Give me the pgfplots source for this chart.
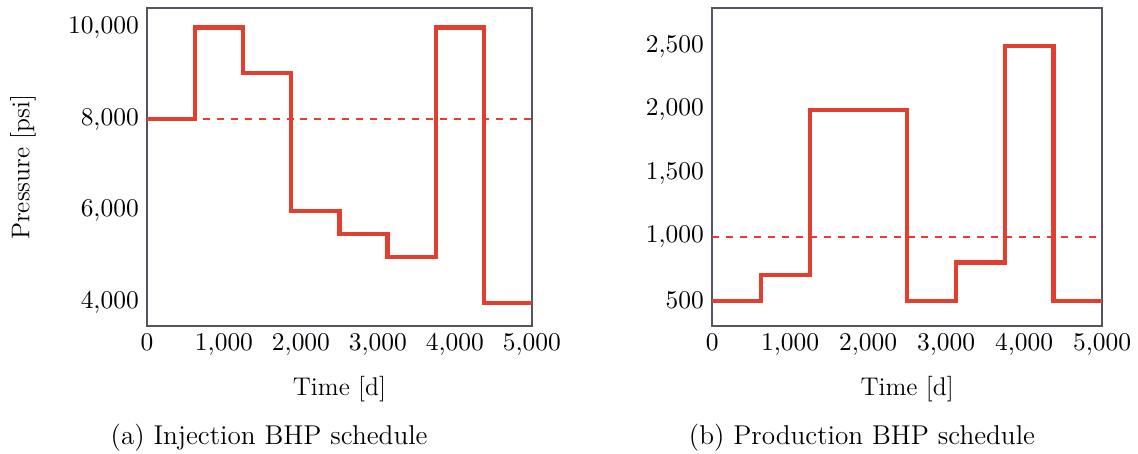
\documentclass[border=0pt]{standalone}
\usepackage{pgfplots}
\pgfplotsset{compat=1.18}
\definecolor{lred}{RGB}{226,63,48}
\definecolor{axgray}{RGB}{85,85,95}
\begin{document}
\begin{tikzpicture}
\useasboundingbox (-63.2pt,-54.6pt) rectangle (426.1pt,140.2pt);
\pgfplotsset{
  every axis/.append style={
    scale only axis, width=165.5pt, height=136.7pt,
    xmin=0, xmax=5000,
    xtick={0,1000,2000,3000,4000,5000},
    axis line style={axgray, line width=0.6pt},
    tick style={draw=none},
    /pgf/number format/1000 sep={\mathord{,}},
    scaled ticks=false,
    tick label style={font=\fontsize{11.2}{13}\selectfont},
    label style={font=\fontsize{11}{13}\selectfont},
    xlabel={Time [d]},
    x label style={yshift=-2pt},
    clip=false,
  }
}
\begin{axis}[
  ymin=3500, ymax=10420,
  ytick={4000,6000,8000,10000},
  ylabel={Pressure [psi]},
  y label style={at={(axis description cs:-0.322,0.5)}, anchor=center},
]
\addplot[const plot, lred, line width=1.8pt] coordinates {
  (0,8000)(625,10000)(1250,9000)(1875,6000)(2500,5500)(3125,5000)(3750,10000)(4375,4000)(5000,4000)};
\addplot[lred, dashed, line width=0.8pt] coordinates {(0,8000)(5000,8000)};
\end{axis}
\begin{axis}[
  at={(243pt,0)},
  width=167.7pt,
  ymin=300, ymax=2800,
  ytick={500,1000,1500,2000,2500},
]
\addplot[const plot, lred, line width=1.8pt] coordinates {
  (0,500)(625,700)(1250,2000)(1875,2000)(2500,500)(3125,800)(3750,2500)(4375,500)(5000,500)};
\addplot[lred, dashed, line width=0.8pt] coordinates {(0,1000)(5000,1000)};
\end{axis}
\node[font=\fontsize{11.7}{14}\selectfont] at (52.5pt,-48.2pt) {(a) Injection BHP schedule};
\node[font=\fontsize{11.7}{14}\selectfont] at (307.4pt,-48.2pt) {(b) Production BHP schedule};
\end{tikzpicture}
\end{document}
